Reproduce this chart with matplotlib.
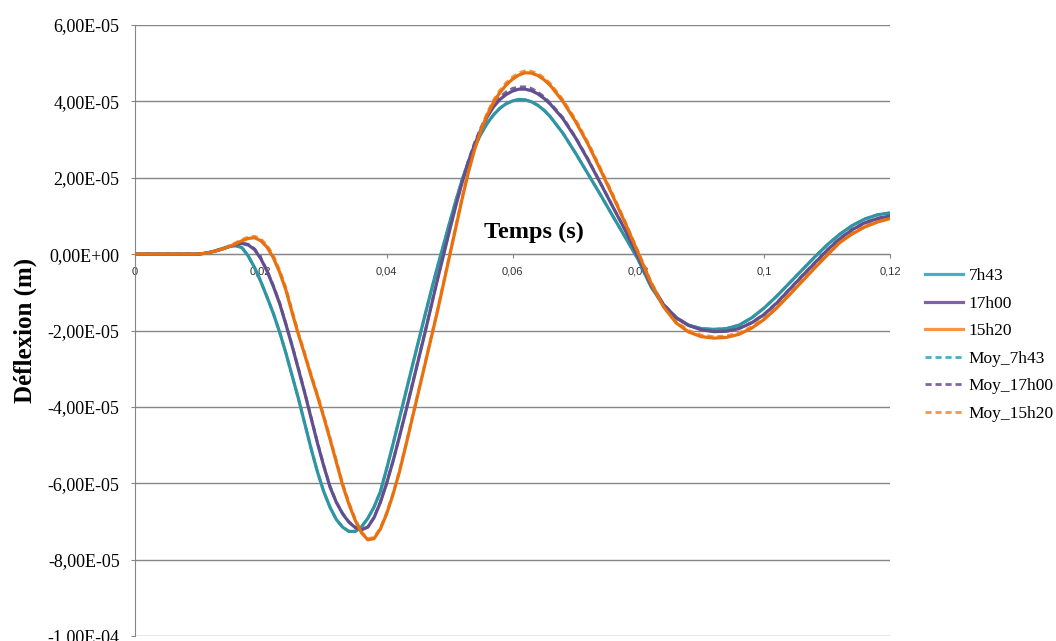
import numpy as np
import matplotlib
matplotlib.use('Agg')
import matplotlib.pyplot as plt
from matplotlib.ticker import FuncFormatter, MultipleLocator

# temps (s) : pas de 2 ms, 1 ms entre 0,010 et 0,066
temps = [0.000, 0.002, 0.004, 0.006, 0.008,
         0.010, 0.011, 0.012, 0.013, 0.014, 0.015, 0.016, 0.017, 0.018, 0.019,
         0.020, 0.021, 0.022, 0.023, 0.024, 0.025, 0.026, 0.027, 0.028, 0.029,
         0.030, 0.031, 0.032, 0.033, 0.034, 0.035, 0.036, 0.037, 0.038, 0.039,
         0.040, 0.041, 0.042, 0.043, 0.044, 0.045, 0.046, 0.047, 0.048, 0.049,
         0.050, 0.051, 0.052, 0.053, 0.054, 0.055, 0.056, 0.057, 0.058, 0.059,
         0.060, 0.061, 0.062, 0.063, 0.064, 0.065, 0.066,
         0.068, 0.070, 0.072, 0.074, 0.076, 0.078, 0.080, 0.082, 0.084, 0.086,
         0.088, 0.090, 0.092, 0.094, 0.096, 0.098, 0.100, 0.102, 0.104, 0.106,
         0.108, 0.110, 0.112, 0.114, 0.116, 0.118, 0.120]

# deflexions en 1e-5 m
d_7h43 = [0, 0, 0, 0, 0,
          0.0, 0.02, 0.05, 0.10, 0.15, 0.20, 0.22, 0.17, -0.05, -0.35,
          -0.72, -1.13, -1.56, -2.05, -2.6, -3.2, -3.8, -4.45, -5.1, -5.7,
          -6.22, -6.63, -6.95, -7.15, -7.26, -7.26, -7.14, -6.92, -6.62, -6.22,
          -5.62, -4.98, -4.32, -3.65, -2.98, -2.32, -1.66, -1.01, -0.38, 0.22,
          0.82, 1.4, 1.95, 2.42, 2.82, 3.15, 3.43, 3.65, 3.82, 3.94,
          4.01, 4.05, 4.04, 3.99, 3.9, 3.77, 3.6,
          3.17, 2.65, 2.1, 1.55, 0.98, 0.42, -0.15, -0.85, -1.35, -1.67,
          -1.86, -1.95, -1.97, -1.95, -1.86, -1.67, -1.41, -1.1, -0.76, -0.42,
          -0.08, 0.24, 0.52, 0.75, 0.92, 1.03, 1.08]
d_17h00 = [0, 0, 0, 0, 0,
           0.0, 0.02, 0.05, 0.09, 0.14, 0.2, 0.25, 0.28, 0.24, 0.12,
           -0.12, -0.45, -0.85, -1.3, -1.85, -2.42, -3.03, -3.65, -4.3, -4.95,
           -5.55, -6.1, -6.5, -6.8, -7.02, -7.16, -7.22, -7.15, -6.9, -6.5,
           -6.0, -5.43, -4.8, -4.15, -3.48, -2.8, -2.12, -1.42, -0.72, -0.05,
           0.62, 1.27, 1.88, 2.42, 2.88, 3.27, 3.6, 3.86, 4.05, 4.18,
           4.27, 4.32, 4.32, 4.28, 4.2, 4.08, 3.93,
           3.55, 3.05, 2.47, 1.85, 1.22, 0.6, -0.08, -0.8, -1.32, -1.66,
           -1.87, -1.98, -2.03, -2.02, -1.95, -1.8, -1.58, -1.28, -0.93, -0.58,
           -0.24, 0.1, 0.4, 0.64, 0.82, 0.93, 1.0]
d_15h20 = [0, 0, 0, 0, 0,
           0.0, 0.02, 0.05, 0.09, 0.14, 0.2, 0.27, 0.35, 0.41, 0.43,
           0.35, 0.18, -0.1, -0.48, -0.95, -1.55, -2.12, -2.65, -3.2, -3.72,
           -4.27, -4.85, -5.45, -6.05, -6.55, -6.97, -7.3, -7.48, -7.45, -7.2,
           -6.8, -6.3, -5.72, -5.05, -4.35, -3.65, -2.95, -2.25, -1.55, -0.8,
           -0.05, 0.7, 1.45, 2.15, 2.75, 3.25, 3.65, 3.98, 4.23, 4.43,
           4.58, 4.69, 4.75, 4.74, 4.68, 4.57, 4.42,
           4.0, 3.48, 2.88, 2.2, 1.5, 0.78, 0.02, -0.75, -1.38, -1.8,
           -2.04, -2.16, -2.2, -2.18, -2.1, -1.94, -1.71, -1.41, -1.07, -0.72,
           -0.37, -0.03, 0.3, 0.53, 0.71, 0.84, 0.93]

# moyennes
moy_7h43 = [0, 0, 0, 0, 0,
            0.0, 0.02, 0.05, 0.10, 0.15, 0.20, 0.22, 0.17, -0.05, -0.35,
            -0.72, -1.13, -1.56, -2.05, -2.6, -3.2, -3.8, -4.45, -5.1, -5.7,
            -6.22, -6.63, -6.95, -7.15, -7.26, -7.26, -7.14, -6.92, -6.62, -6.22,
            -5.62, -4.98, -4.32, -3.65, -2.98, -2.32, -1.66, -1.01, -0.38, 0.22,
            0.82, 1.4, 1.95, 2.42, 2.82, 3.15, 3.43, 3.65, 3.82, 3.94,
            4.01, 4.05, 4.04, 3.99, 3.9, 3.77, 3.6,
            3.17, 2.65, 2.1, 1.55, 0.98, 0.42, -0.15, -0.85, -1.35, -1.67,
            -1.86, -1.95, -1.97, -1.95, -1.86, -1.67, -1.41, -1.1, -0.76, -0.42,
            -0.08, 0.24, 0.52, 0.75, 0.92, 1.03, 1.08]
moy_17h00 = [0, 0, 0, 0, 0,
             0.0, 0.02, 0.05, 0.09, 0.14, 0.2, 0.26, 0.29, 0.26, 0.14,
             -0.1, -0.43, -0.83, -1.28, -1.83, -2.4, -3.01, -3.63, -4.28, -4.93,
             -5.53, -6.08, -6.49, -6.79, -7.01, -7.15, -7.21, -7.14, -6.89, -6.49,
             -5.99, -5.42, -4.79, -4.13, -3.46, -2.78, -2.1, -1.4, -0.7, -0.02,
             0.65, 1.3, 1.92, 2.46, 2.93, 3.32, 3.66, 3.92, 4.11, 4.25,
             4.34, 4.38, 4.38, 4.34, 4.25, 4.12, 3.96,
             3.58, 3.07, 2.49, 1.86, 1.23, 0.61, -0.07, -0.79, -1.31, -1.65,
             -1.86, -1.97, -2.02, -2.01, -1.94, -1.79, -1.57, -1.27, -0.92, -0.57,
             -0.23, 0.11, 0.41, 0.65, 0.83, 0.94, 1.01]
moy_15h20 = [0, 0, 0, 0, 0,
             0.0, 0.02, 0.05, 0.1, 0.15, 0.22, 0.3, 0.38, 0.45, 0.47,
             0.4, 0.23, -0.04, -0.42, -0.89, -1.49, -2.07, -2.6, -3.15, -3.67,
             -4.22, -4.8, -5.4, -6.0, -6.5, -6.93, -7.27, -7.45, -7.42, -7.17,
             -6.77, -6.27, -5.69, -5.02, -4.32, -3.62, -2.92, -2.22, -1.52, -0.77,
             -0.02, 0.74, 1.5, 2.2, 2.8, 3.3, 3.71, 4.04, 4.29, 4.49,
             4.64, 4.75, 4.8, 4.79, 4.73, 4.62, 4.47,
             4.05, 3.53, 2.93, 2.25, 1.55, 0.82, 0.06, -0.71, -1.34, -1.76,
             -2.0, -2.12, -2.16, -2.14, -2.06, -1.9, -1.67, -1.37, -1.03, -0.68,
             -0.33, 0.01, 0.33, 0.56, 0.74, 0.87, 0.96]

noms = ['7h43', '17h00', '15h20', 'Moy_7h43', 'Moy_17h00', 'Moy_15h20']

t = np.array(temps)
series = [d_7h43, d_17h00, d_15h20, moy_7h43, moy_17h00, moy_15h20]
couleurs = ['#3194A2', '#62508E', '#E8700F', '#4BACC6', '#8064A2', '#F79646']
couleurs_leg = ['#4BACC6', '#8064A2', '#F79646', '#4BACC6', '#8064A2', '#F79646']

plt.rcParams['font.family'] = ['Liberation Serif', 'DejaVu Serif']

fig = plt.figure(figsize=(10.56, 6.41), dpi=100)
ax = fig.add_axes([135/1056, 5/641, 755/1056, 611/641])

for i, s in enumerate(series):
    y = np.array(s) * 1e-5
    if i < 3:
        ax.plot(t, y, color=couleurs[i], lw=2.3, label=noms[i], zorder=4)
    else:
        ax.plot(t, y, color=couleurs[i], lw=2.0, ls=(0, (2.2, 1.4)), label=noms[i], zorder=3)

ax.set_xlim(0, 0.12)
ax.set_ylim(-1e-4, 6e-5)
ax.yaxis.set_major_locator(MultipleLocator(2e-5))
ax.xaxis.set_major_locator(MultipleLocator(0.02))
ax.yaxis.set_major_formatter(FuncFormatter(lambda v, p: ('%.2E' % round(v, 12)).replace('.', ',')))
ax.xaxis.set_major_formatter(FuncFormatter(lambda v, p: ('%g' % round(v, 4)).replace('.', ',')))

ax.spines['top'].set_visible(False)
ax.spines['right'].set_visible(False)
ax.spines['bottom'].set_position(('data', 0))
ax.spines['bottom'].set_color('#868686')
ax.spines['left'].set_color('#868686')
ax.yaxis.grid(True, color='#868686', lw=1)
ax.set_axisbelow(True)

ax.tick_params(axis='y', length=3, pad=8, color='#868686', labelsize=13)
ax.tick_params(axis='x', length=3, pad=6, color='#868686', labelsize=8, labelcolor='#333333')
for lab in ax.get_xticklabels():
    lab.set_family(['Liberation Sans', 'DejaVu Sans'])

ax.set_ylabel('Déflexion (m)', fontsize=18, fontweight='bold', labelpad=8)
ax.text(0.528, 0.66, 'Temps (s)', transform=ax.transAxes, fontsize=17.5,
        fontweight='bold', ha='center', va='center')

leg = fig.legend(loc='center left', bbox_to_anchor=(925/1056, 1 - 345/641), frameon=False,
                 fontsize=12.5, handlelength=2.2, handletextpad=0.3, labelspacing=0.66,
                 borderpad=0, borderaxespad=0)
for h, c in zip(leg.legend_handles, couleurs_leg):
    h.set_color(c)

fig.savefig('out.png', dpi=100)
